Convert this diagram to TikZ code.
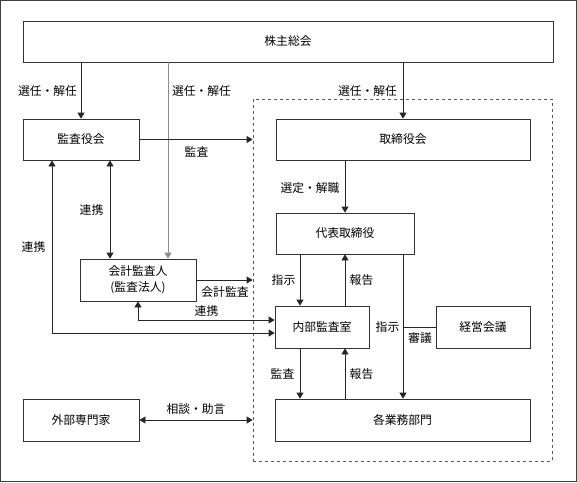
\documentclass[tikz,border=0pt]{standalone}
\usepackage{fontspec}
\setmainfont{Noto Sans CJK JP}
\usetikzlibrary{arrows.meta,calc}
\begin{document}
\begin{tikzpicture}[x=1pt,y=-1pt,
  every node/.style={font=\fontsize{11.8}{16}\selectfont},
  box/.style={draw=black!80,line width=0.8pt,rectangle,inner sep=0pt},
  lbl/.style={inner sep=0pt},
  ln/.style={draw=black!85,line width=0.8pt},
  arr/.style={ln,-{Triangle[length=6pt,width=7pt]}},
  darr/.style={ln,{Triangle[length=6pt,width=7pt]}-{Triangle[length=6pt,width=7pt]}}]
\useasboundingbox (0,0) rectangle (577,482);
\draw[black!75,line width=1pt] (0.5,0.5) rectangle (576.5,481.5);
% group
\node[draw=black!65,dashed,line width=0.7pt,minimum width=299pt,minimum height=362pt,inner sep=0pt] (grp) at (402.5,280) {};
% boxes
\node[box,minimum width=530pt,minimum height=41pt] (kabu) at (288,41.5) {株主総会};
\node[box,minimum width=116pt,minimum height=41pt] (kansa) at (81,139.5) {監査役会};
\node[box,minimum width=254pt,minimum height=41pt] (tori) at (403,139.5) {取締役会};
\node[box,minimum width=138pt,minimum height=41pt] (daihyo) at (345,233.5) {代表取締役};
\node[box,minimum width=116pt,minimum height=42pt,align=center] (kaikei) at (138,280) {会計監査人\\(監査法人)};
\node[box,minimum width=94pt,minimum height=42pt] (naibu) at (322,327) {内部監査室};
\node[box,minimum width=94pt,minimum height=42pt] (keiei) at (483,327) {経営会議};
\node[box,minimum width=255pt,minimum height=42pt] (gyomu) at (402.5,420) {各業務部門};
\node[box,minimum width=116pt,minimum height=42pt] (gaibu) at (81,420) {外部専門家};
% helper x coordinates
\coordinate (x52) at (52,0);
\coordinate (x110) at (110,0);
\coordinate (x138) at (138,0);
\coordinate (x168) at (168,0);
\coordinate (x300) at (300,0);
\coordinate (x345) at (345,0);
\coordinate (x403) at (403,0);
% connectors
\draw[arr] (kabu.south -| kansa.north) -- (kansa.north);
\draw[ln,draw=black!45,-{Triangle[length=6pt,width=7pt]}] (kabu.south -| x168) -- (kaikei.north -| x168);
\draw[arr] (kabu.south -| x403) -- (tori.north -| x403);
\draw[arr] (kansa.east) -- (kansa.east -| grp.west);
\draw[arr] (tori.south -| daihyo.north) -- (daihyo.north);
\draw[arr] (daihyo.south -| x300) -- (naibu.north -| x300);
\draw[arr] (naibu.north -| x345) -- (daihyo.south -| x345);
\draw[arr] (daihyo.south -| x403) -- (gyomu.north -| x403);
\draw[ln] (keiei.west) -- (keiei.west -| x403);
\draw[arr] (naibu.south -| x300) -- (gyomu.north -| x300);
\draw[arr] (gyomu.north -| x345) -- (naibu.south -| x345);
\draw[darr] (kansa.south -| x110) -- (kaikei.north -| x110);
\coordinate (n1) at ($(naibu.west)+(0,6)$);
\coordinate (n2) at ($(naibu.west)+(0,-7)$);
\draw[darr] (kansa.south -| x52) |- (n1);
\draw[darr] (kaikei.south -| x138) |- (n2);
\draw[arr] (kaikei.east) -- (kaikei.east -| grp.west);
\draw[darr] (gaibu.east) -- (gaibu.east -| grp.west);
% labels
\node[lbl] (l1) at (47.5,91) {選任・解任};
\node[lbl] (l2) at (201.5,91) {選任・解任};
\node[lbl] (l3) at (367.5,91) {選任・解任};
\node[lbl] (l4) at (196.5,152) {監査};
\node[lbl] (l5) at (310,188) {選定・解職};
\node[lbl] (l6) at (91.5,210) {連携};
\node[lbl] (l7) at (33.5,247) {連携};
\node[lbl] (l8) at (283.5,280) {指示};
\node[lbl] (l9) at (361.5,280) {報告};
\node[lbl] (l10) at (225,292) {会計監査};
\node[lbl] (l11) at (206.5,311) {連携};
\node[lbl] (l12) at (387.5,327) {指示};
\node[lbl] (l13) at (420,338) {審議};
\node[lbl] (l14) at (282.5,374) {監査};
\node[lbl] (l15) at (361.5,374) {報告};
\node[lbl] (l16) at (196,409) {相談・助言};
\end{tikzpicture}
\end{document}
